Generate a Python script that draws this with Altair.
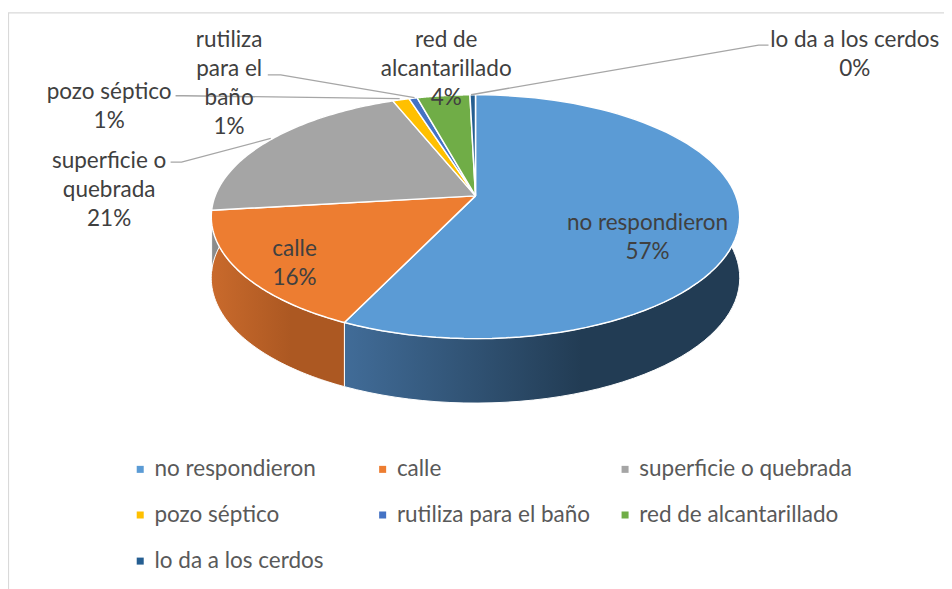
import altair as alt
import pandas as pd

# ---------------- data ----------------
categorias = ["no respondieron", "calle", "superficie o quebrada", "pozo séptico",
              "rutiliza para el baño", "red de alcantarillado", "lo da a los cerdos"]
valores = [57.0, 16.1, 20.9, 1.2, 0.6, 3.8, 0.4]
# label text split into lines (as in the figure)
etiquetas = ["no respondieron", "calle", "superficie o|quebrada", "pozo séptico",
             "rutiliza|para el|baño", "red de|alcantarillado", "lo da a los cerdos"]

# ---------------- style ----------------
colores = ["#5B9BD5", "#ED7D31", "#A5A5A5", "#FFC000", "#4472C4", "#70AD47", "#255E91"]
lados = [("#416C98", "#223C54"), ("#C96A2C", "#AC5822"), ("#8C8C8C", "#6E6E6E"),
         ("#D9A300", "#B38600"), ("#3A61A6", "#2C4A80"), ("#5E923B", "#4A752E"),
         ("#1F4F7A", "#183D5E")]
label_x = [645, 289, 102, 102, 223, 442, 854]
label_y = [221, 248, 159, 89, 37, 37, 37]
# leader lines (polyline points)
leader_id = [0, 0, 0, 1, 1, 1, 2, 2, 2, 3, 3, 3]
leader_x = [467, 757, 767, 410, 275, 262, 395, 177, 169, 265, 175, 164]
leader_y = [85, 35, 35, 88, 65, 65, 89, 86, 86, 129, 153, 153]

FONT = "Lato"
FS = 22.7
W, H = 944, 581
# tilted (perspective) disc: apex at (CX, VY)
CX, VY = 471.5, 187.0
A, B, P = 262.6, 119.4, 0.1707
D0, D1 = 61.0, 4.0   # thickness (slightly larger at the front)
N = 80

df = pd.DataFrame({
    "categoria": categorias,
    "valor": valores,
    "orden": list(range(len(categorias))),
    "etiqueta": etiquetas,
    "lx": label_x,
    "ly": label_y,
})

xs = alt.Scale(domain=[0, W], nice=False, zero=False)
ys = alt.Scale(domain=[0, H], nice=False, zero=False, reverse=True)

base = (
    alt.Chart(df)
    .transform_joinaggregate(total="sum(valor)")
    .transform_window(acum="sum(valor)", sort=[alt.SortField("orden")], frame=[None, 0])
    .transform_calculate(a0="2*PI*(datum.acum - datum.valor)/datum.total")
    .transform_calculate(a1="2*PI*datum.acum/datum.total")
    .transform_calculate(pct="datum.valor/datum.total")
)

PX = f"{CX} + {A}*sin(datum.ang)/(1 + {P}*cos(datum.ang))"
PY = f"{VY} - {B}*cos(datum.ang)/(1 + {P}*cos(datum.ang))"

# --- top faces ---
top = (
    base.transform_calculate(k=f"sequence(-1, {N + 2})")
    .transform_flatten(["k"])
    .transform_calculate(t=f"clamp(datum.k, 0, {N})/{N}")
    .transform_calculate(ang="datum.a0 + (datum.a1 - datum.a0)*datum.t")
    .transform_calculate(px=f"(datum.k < 0 || datum.k > {N}) ? {CX} : {PX}")
    .transform_calculate(py=f"(datum.k < 0 || datum.k > {N}) ? {VY} : {PY}")
    .mark_line(filled=True, stroke="white", strokeWidth=1.5, strokeJoin="round")
    .encode(
        x=alt.X("px:Q", scale=xs, axis=None),
        y=alt.Y("py:Q", scale=ys, axis=None),
        order=alt.Order("k:Q"),
        color=alt.Color(
            "categoria:N",
            scale=alt.Scale(domain=categorias, range=colores),
            sort=categorias,
            legend=alt.Legend(
                title=None, orient="none", legendX=122, legendY=451, columns=3,
                direction="horizontal",
                symbolType="square", symbolSize=50, symbolStrokeWidth=0,
                labelFont=FONT, labelFontSize=FS, labelColor="#595959",
                rowPadding=22.5, columnPadding=3.5, gridAlign="all", padding=0,
                labelOffset=3, labelLimit=400,
            ),
        ),
    )
)

# --- side walls ---
side_base = (
    base.transform_calculate(k=f"sequence(0, {2 * N + 3})")
    .transform_flatten(["k"])
    .transform_calculate(t=f"datum.k <= {N} ? datum.k/{N} : (datum.k <= {2 * N + 1} ? ({2 * N + 1} - datum.k)/{N} : 0)")
    .transform_calculate(ang="datum.a0 + (datum.a1 - datum.a0)*datum.t")
    .transform_calculate(off=f"(datum.k > {N} && datum.k <= {2 * N + 1}) ? ({D0} - {D1}*cos(datum.ang)) : 0")
    .transform_calculate(px=PX)
    .transform_calculate(py=f"{PY} + datum.off")
)
sides = []
for cat, (c0, c1) in zip(categorias, lados):
    grad = alt.LinearGradient(
        gradient="linear",
        stops=[alt.GradientStop(color=c0, offset=0), alt.GradientStop(color=c1, offset=0.6),
               alt.GradientStop(color=c1, offset=1)],
        x1=0, x2=1, y1=0, y2=0,
    )
    sides.append(
        side_base.transform_filter(alt.datum.categoria == cat)
        .mark_line(filled=True, fill=grad, stroke="white", strokeWidth=1)
        .encode(
            x=alt.X("px:Q", scale=xs, axis=None),
            y=alt.Y("py:Q", scale=ys, axis=None),
            order=alt.Order("k:Q"),
        )
    )

# --- labels ---
labels = (
    base.transform_calculate(txt='split(datum.etiqueta + "|" + format(datum.pct, ".0%"), "|")')
    .mark_text(font=FONT, fontSize=FS, color="#404040", align="center",
               baseline="alphabetic", lineHeight=29.3)
    .encode(
        x=alt.X("lx:Q", scale=xs, axis=None),
        y=alt.Y("ly:Q", scale=ys, axis=None),
        text="txt:N",
    )
)

leaders_df = pd.DataFrame({"lid": leader_id, "ord": list(range(len(leader_id))),
                           "x": leader_x, "y": leader_y})
leaders = (
    alt.Chart(leaders_df)
    .mark_line(color="#A6A6A6", strokeWidth=1.3)
    .encode(
        x=alt.X("x:Q", scale=xs, axis=None),
        y=alt.Y("y:Q", scale=ys, axis=None),
        detail="lid:N",
        order=alt.Order("ord:Q"),
    )
)

frame = (
    alt.Chart(pd.DataFrame({"a": [0]}))
    .mark_rect(fill="white", stroke="#D9D9D9", strokeWidth=1.2)
    .encode(x=alt.value(0.5), x2=alt.value(980), y=alt.value(2.5), y2=alt.value(620))
)

chart = (
    alt.layer(frame, *sides, top, leaders, labels)
    .properties(width=W, height=H, padding=0, autosize=alt.AutoSizeParams(type="none"),
                background="white")
    .configure_view(stroke=None)
)

chart.save("out.html", embed_options={"renderer": "svg", "actions": False})
